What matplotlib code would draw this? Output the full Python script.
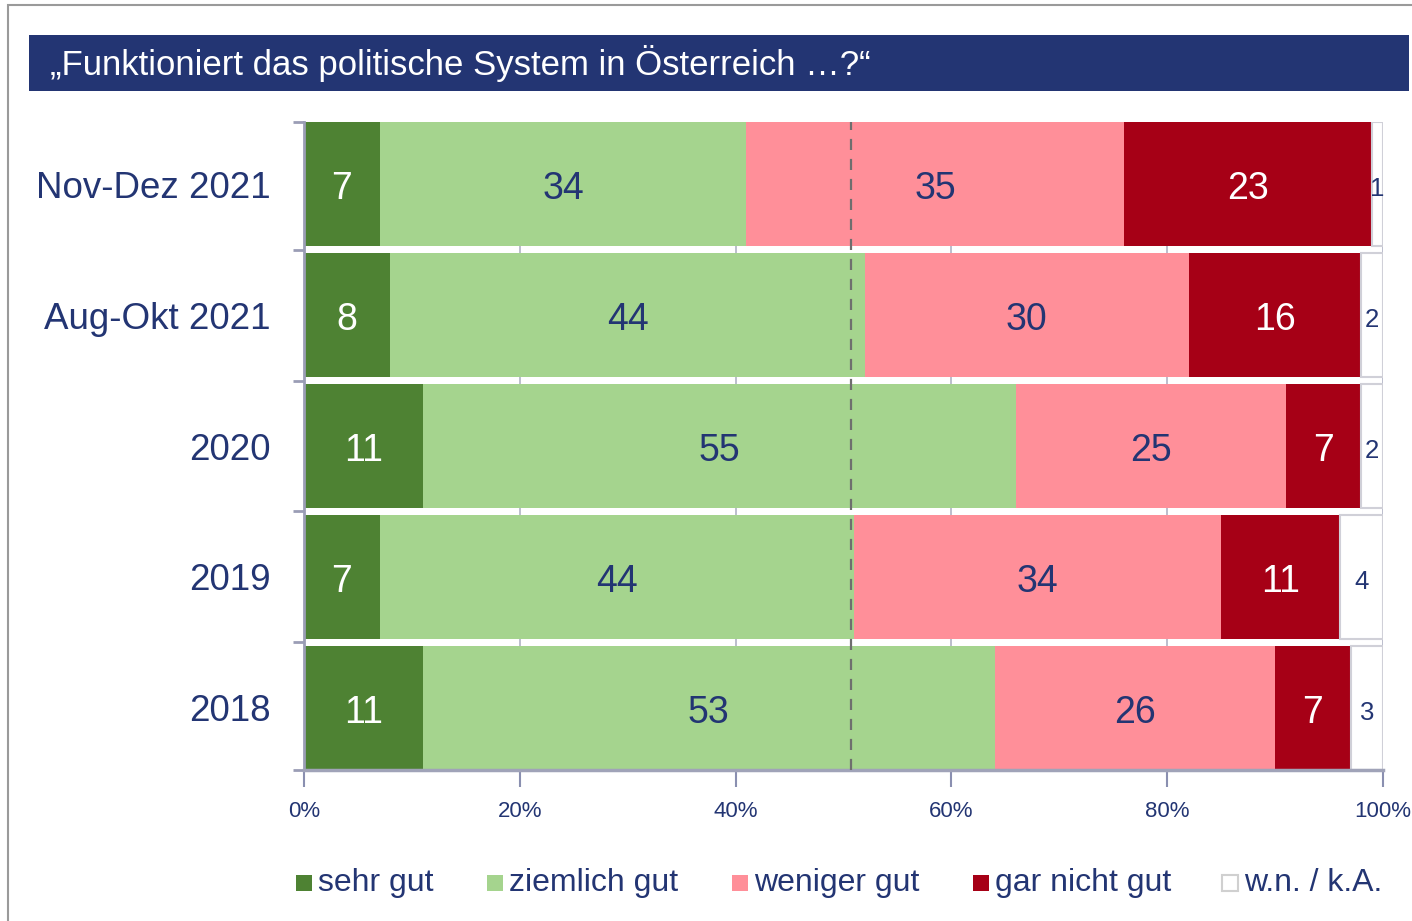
import numpy as np
import matplotlib
matplotlib.use('Agg')
from matplotlib import pyplot as plt
from matplotlib.patches import Rectangle

plt.rcParams['font.family'] = ['Liberation Sans', 'DejaVu Sans']

# Daten
zeitpunkte = ['Nov-Dez 2021', 'Aug-Okt 2021', '2020', '2019', '2018']
sehr_gut = [7, 8, 11, 7, 11]
ziemlich_gut = [34, 44, 55, 44, 53]
weniger_gut = [35, 30, 25, 34, 26]
gar_nicht_gut = [23, 16, 7, 11, 7]
wn_ka = [1, 2, 2, 4, 3]
kategorien = ['sehr gut', 'ziemlich gut', 'weniger gut', 'gar nicht gut', 'w.n. / k.A.']
xticks = [0, 20, 40, 60, 80, 100]
xticklabels = ['0%', '20%', '40%', '60%', '80%', '100%']
mitte = 50.7

navy = '#233573'
farben = ['#4e8233', '#a5d48e', '#ff8f99', '#a60016', '#ffffff']
textfarben = ['white', navy, navy, 'white', navy]

fig = plt.figure(figsize=(14.12, 9.21), dpi=100)

# Rahmen und Titelbalken
fig.patches.append(Rectangle((8/1412, -0.05), 1.2, 1.05 - 5/921, transform=fig.transFigure,
                             fill=False, edgecolor='#9a9a9a', linewidth=1.5, zorder=0))
fig.patches.append(Rectangle((29/1412, 1 - 91/921), 1380/1412, 56/921, transform=fig.transFigure,
                             facecolor=navy, edgecolor='none', zorder=1))
fig.text(50/1412, 1 - 63/921, '\u201eFunktioniert das politische System in \u00d6sterreich \u2026?\u201c',
         color='white', fontsize=25, va='center', ha='left')

ax = fig.add_axes([304/1412, 1 - 770/921, 1079/1412, 648/921])

h = 0.9466
y = np.arange(len(zeitpunkte))[::-1]
reihen = [sehr_gut, ziemlich_gut, weniger_gut, gar_nicht_gut, wn_ka]
links = np.zeros(len(zeitpunkte))
for i, werte in enumerate(reihen):
    werte = np.array(werte, dtype=float)
    if i == 4:
        ax.barh(y, werte, left=links, height=h, color='white', edgecolor='#d0d0d8',
                linewidth=1.5, zorder=2)
    else:
        ax.barh(y, werte, left=links, height=h, color=farben[i], edgecolor='none', zorder=2)
    for yy, l, w in zip(y, links, werte):
        groesse = 18.5 if i == 4 else 27
        ax.text(l + w / 2, yy - 0.035, f'{int(w)}', ha='center', va='center',
                color=textfarben[i], fontsize=groesse, zorder=4)
    links += werte

ax.axvline(mitte, color='#6e6e6e', linestyle=(0, (5, 4)), linewidth=1.6, zorder=3)

ax.set_xlim(0, 100)
ax.set_ylim(-h / 2, 4 + h / 2)
ax.set_xticks(xticks)
ax.set_xticklabels(xticklabels, color=navy, fontsize=16)
ax.set_yticks(y)
ax.set_yticklabels(zeitpunkte, color=navy, fontsize=26.5)
ax.set_yticks([-h / 2, 0.5, 1.5, 2.5, 3.5, 4 + h / 2], minor=True)
ax.tick_params(axis='y', which='major', length=0, pad=24)
ax.tick_params(axis='y', which='minor', length=8, width=2, color='#9a9db5')
ax.tick_params(axis='x', length=12, width=1.5, color='#8a8fb0', pad=10)
ax.grid(axis='x', color='#b0b3c5', linewidth=1.2, zorder=0)
ax.set_axisbelow(True)

for s in ['top', 'right']:
    ax.spines[s].set_visible(False)
ax.spines['left'].set_color('#9a9db5')
ax.spines['left'].set_linewidth(2)
ax.spines['bottom'].set_color('#a0a3b8')
ax.spines['bottom'].set_linewidth(2.5)

# Legende
leg_x = [296, 487, 732, 973, 1222]
for i, name in enumerate(kategorien):
    fig.patches.append(Rectangle((leg_x[i] / 1412, 1 - 891 / 921), 16 / 1412, 16 / 921,
                                 transform=fig.transFigure, facecolor=farben[i],
                                 edgecolor='#d0d0d0' if i == 4 else 'none', linewidth=1.5))
    fig.text((leg_x[i] + 22) / 1412, 1 - 883 / 921, name, color=navy, fontsize=23,
             va='center', ha='left')

fig.savefig('out.png', dpi=100)
